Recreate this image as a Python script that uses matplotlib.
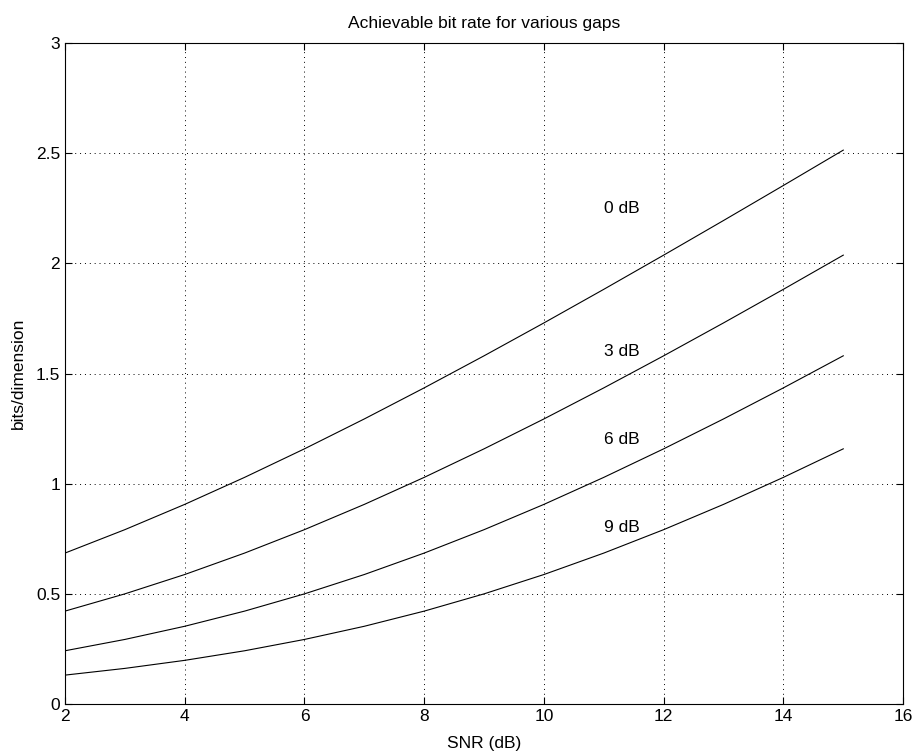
import matplotlib
matplotlib.use("Agg")
import matplotlib.pyplot as plt

plt.rcParams['font.family'] = ['Liberation Sans', 'DejaVu Sans']

snr_db = [2, 3, 4, 5, 6, 7, 8, 9, 10, 11, 12, 13, 14, 15]
gap_0 = [0.6851, 0.7914, 0.9061, 1.0287, 1.1582, 1.2939, 1.4349, 1.5804, 1.7297, 1.8822, 2.0373, 2.1945, 2.3535, 2.5139]
gap_3 = [0.4217, 0.5000, 0.5878, 0.6851, 0.7914, 0.9061, 1.0287, 1.1582, 1.2939, 1.4349, 1.5804, 1.7297, 1.8822, 2.0373]
gap_6 = [0.2417, 0.2931, 0.3529, 0.4217, 0.5000, 0.5878, 0.6851, 0.7914, 0.9061, 1.0287, 1.1582, 1.2939, 1.4349, 1.5804]
gap_9 = [0.1312, 0.1617, 0.1982, 0.2417, 0.2931, 0.3529, 0.4217, 0.5000, 0.5878, 0.6851, 0.7914, 0.9061, 1.0287, 1.1582]
series = [gap_0, gap_3, gap_6, gap_9]
labels = ["0 dB", "3 dB", "6 dB", "9 dB"]
label_x = [11.0, 11.0, 11.0, 11.0]
label_y = [2.25, 1.6, 1.2, 0.8]

fig = plt.figure(figsize=(9.13, 7.52), dpi=100)
ax = fig.add_axes([0.0712, 0.0638, 0.918, 0.879])
for s in series:
    ax.plot(snr_db, s, color='black', linewidth=0.8)
for t, x, y in zip(labels, label_x, label_y):
    ax.text(x, y, t, fontsize=12.5, va='center', ha='left')

ax.set_xlim(2, 16)
ax.set_ylim(0, 3)
ax.set_xticks(range(2, 17, 2))
ax.set_yticks([0, 0.5, 1, 1.5, 2, 2.5, 3])
ax.set_yticklabels(["0", "0.5", "1", "1.5", "2", "2.5", "3"])
ax.grid(True, color='black', linestyle=(0, (1, 4)), linewidth=0.7)
ax.tick_params(direction='in', labelsize=12.5, top=True, right=True, length=5, pad=3.5)
for sp in ax.spines.values():
    sp.set_linewidth(0.8)
ax.set_xlabel("SNR (dB)", fontsize=12.5, labelpad=9)
ax.set_ylabel("bits/dimension", fontsize=12.5, labelpad=7)
ax.set_title("Achievable bit rate for various gaps", fontsize=12.5, pad=11)

fig.savefig("out.png", dpi=100)
